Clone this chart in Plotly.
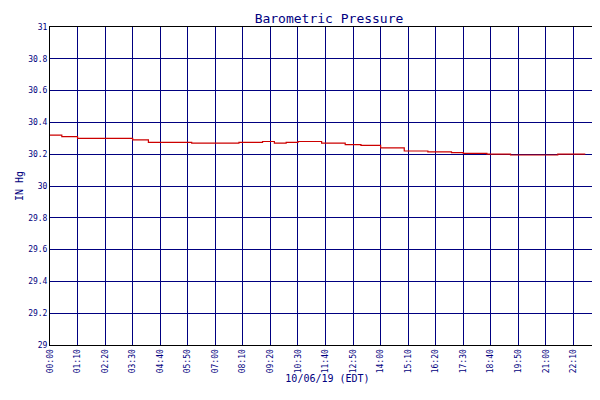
import plotly.graph_objects as go

# minutes since midnight and pressure readings (IN Hg)
minutes = [0, 30, 70, 120, 140, 210, 250, 300, 360, 420, 480, 540, 570, 600, 630,
           690, 750, 790, 840, 900, 960, 1020, 1050, 1110, 1170, 1230, 1290, 1330, 1360]
pressure = [30.32, 30.31, 30.30, 30.30, 30.30, 30.29, 30.275, 30.275, 30.27, 30.27,
            30.275, 30.28, 30.27, 30.275, 30.28, 30.27, 30.26, 30.255, 30.24, 30.22,
            30.215, 30.21, 30.205, 30.20, 30.195, 30.195, 30.20, 30.20, 30.20]

tick_vals = list(range(0, 1401, 70)) + [1410]
tick_text = [f"{m // 60:02d}:{m % 60:02d}" for m in range(0, 1401, 70)] + ["23:59"]

FONT = "DejaVu Sans Mono"
NAVY = "#000080"

fig = go.Figure(go.Scatter(
    x=minutes, y=pressure, mode="lines", line=dict(color="#cc0000", width=1.2),
    line_shape="hv", name="Relative Pressure",
))

fig.update_layout(
    width=600, height=400,
    paper_bgcolor="white", plot_bgcolor="white",
    margin=dict(l=42, r=3, t=19, b=63, autoexpand=False),
    title=dict(text="Barometric Pressure", x=0.535, y=0.985, yanchor="top",
               font=dict(family=FONT, size=13, color=NAVY)),
    font=dict(family=FONT, size=8, color=NAVY),
    showlegend=True,
    legend=dict(orientation="h", x=0.5, xanchor="center", y=-0.15, yanchor="top",
                font=dict(size=8, color=NAVY)),
)
fig.update_xaxes(
    range=[0, 1410], tickvals=tick_vals, ticktext=tick_text, tickangle=-90,
    showgrid=True, gridcolor=NAVY, gridwidth=1, automargin=False,
    showline=True, linecolor="black", mirror=True,
    title=dict(text="10/06/19 (EDT)", font=dict(size=10, color=NAVY), standoff=2),
)
fig.update_yaxes(
    range=[29, 31], dtick=0.2, showgrid=True, gridcolor=NAVY, gridwidth=1,
    showline=True, linecolor="black", mirror=True, zeroline=False, automargin=False,
    title=dict(text="IN Hg", font=dict(size=10, color=NAVY), standoff=2),
)

fig.write_html("out.html")
